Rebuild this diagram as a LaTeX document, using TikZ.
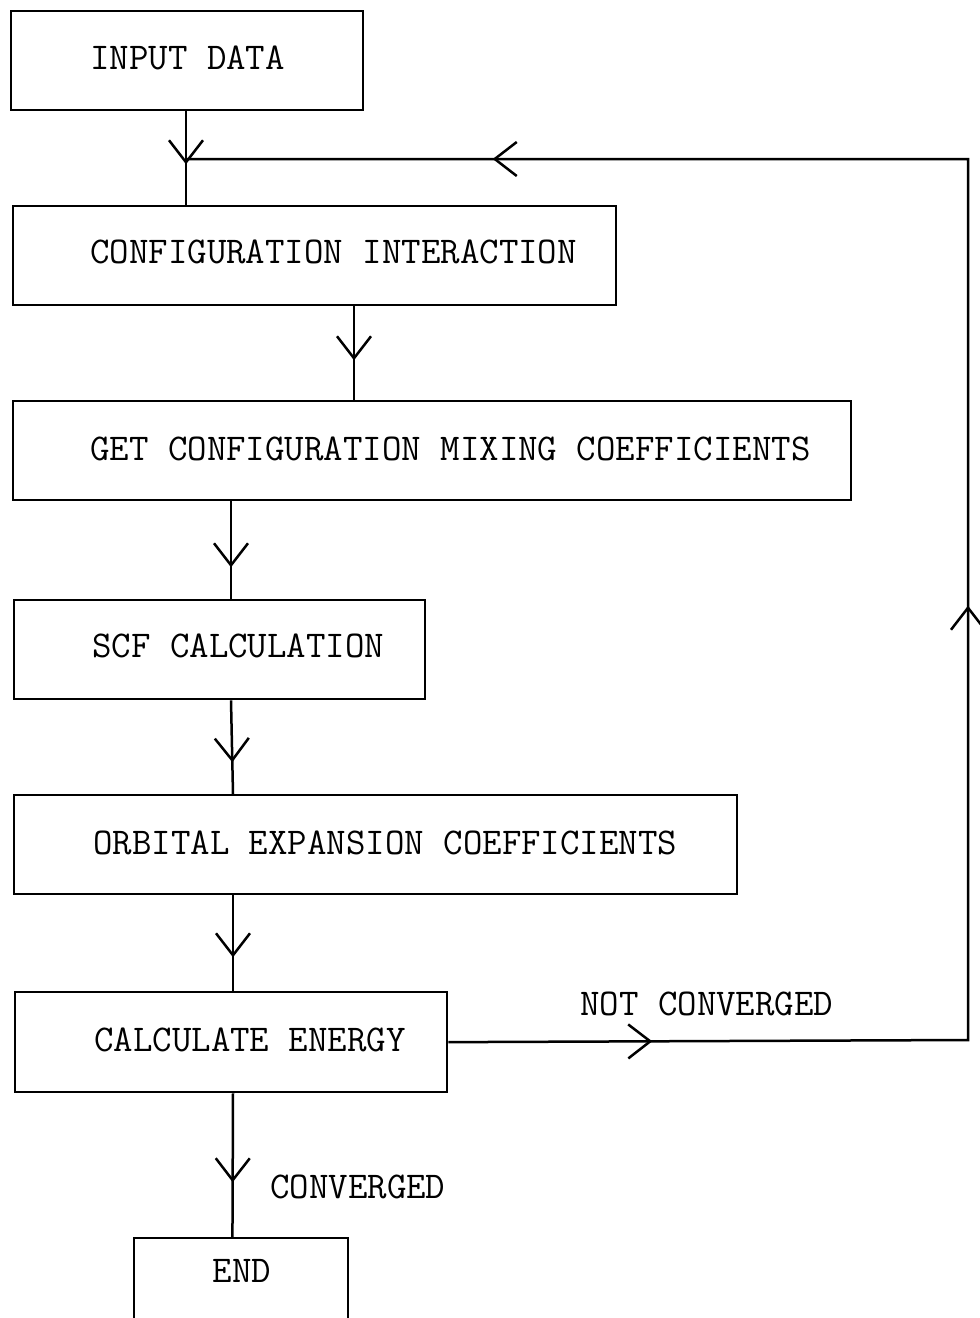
\documentclass[tikz,border=0pt]{standalone}
\usetikzlibrary{arrows.meta,decorations.markings,calc}
\begin{document}
\begin{tikzpicture}[x=1pt,y=-1pt,
  box/.style={draw,line width=2.3pt,minimum width=#1,minimum height=99pt,anchor=north west,inner sep=0pt},
  txt/.style={anchor=west,inner sep=0pt,font=\ttfamily\fontsize{37.8}{44}\selectfont},
  flow/.style={line width=2.5pt},
  barb/.tip={Straight Barb[length=22pt,width=34pt,line width=2.5pt]},
  markat/.style={postaction={decorate},decoration={markings,mark=at position #1 with {\arrow{barb}}}}
]
\useasboundingbox (0,0) rectangle (980,1318);
% boxes
\node[box=352pt] (in) at (10,10) {};
\node[txt] (tin) at (90,58) {INPUT DATA};
\node[box=603pt] (ci) at (12,205) {};
\node[txt] (tci) at (90,252) {CONFIGURATION INTERACTION};
\node[box=838pt] (gc) at (12,400) {};
\node[txt] (tgc) at (90,449) {GET CONFIGURATION MIXING COEFFICIENTS};
\node[box=411pt] (scf) at (13,599) {};
\node[txt] (tscf) at (92,646) {SCF CALCULATION};
\node[box=723pt] (oe) at (13,794) {};
\node[txt] (toe) at (93,843) {ORBITAL EXPANSION COEFFICIENTS};
\node[box=432pt,minimum height=100pt] (ce) at (14,991) {};
\node[txt] (tce) at (94,1040) {CALCULATE ENERGY};
% END box, open at the bottom
\coordinate (e1) at (134,1320);
\coordinate (e2) at (134,1238);
\coordinate (e3) at (348,1238);
\coordinate (e4) at (348,1320);
\draw[line width=2.3pt] (e1) -- (e2) -- (e3) -- (e4);
\node[anchor=center,inner sep=0pt,font=\ttfamily\fontsize{37.8}{44}\selectfont] (tend) at (242,1271) {END};
% labels
\node[txt] (lnc) at (580,1004) {NOT CONVERGED};
\node[txt] (lc) at (270,1187) {CONVERGED};
% connectors
\coordinate (j) at (186,159);
\draw[flow,markat=53pt] ([xshift=176pt]in.south west) -- ([xshift=174pt]ci.north west);
\draw[flow,markat=54pt] ([xshift=342pt]ci.south west) -- ([xshift=342pt]gc.north west);
\draw[flow,markat=66pt] ([xshift=219pt]gc.south west) -- ([xshift=218pt]scf.north west);
\draw[flow,markat=62pt] ([xshift=218pt]scf.south west) -- ([xshift=220pt]oe.north west);
\draw[flow,markat=62pt] ([xshift=220pt]oe.south west) -- ([xshift=219pt]ce.north west);
\draw[flow,markat=89pt] ([xshift=219pt]ce.south west) -- ($(e2)!0.46!(e3)$);
\coordinate (r1) at (968,1040);
\coordinate (r2) at (968,159);
\draw[flow,
  postaction={decorate},
  decoration={markings,
    mark=at position 204pt with {\arrow{barb}},
    mark=at position 954pt with {\arrow{barb}},
    mark=at position 1876pt with {\arrow{barb}}}]
  (ce.east) -- (r1) -- (r2) -- (j);
\end{tikzpicture}
\end{document}
